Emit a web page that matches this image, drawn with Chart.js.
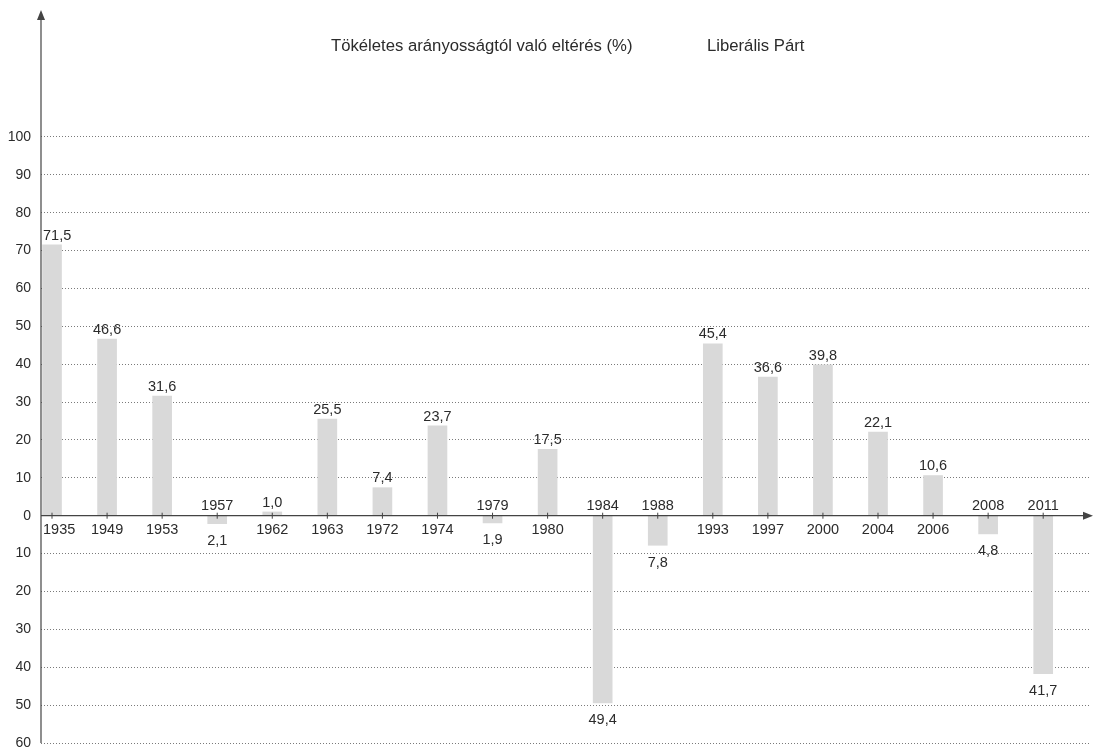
<!DOCTYPE html>
<html>
<head>
<meta charset="utf-8">
<script src="https://cdn.jsdelivr.net/npm/chart.js@4/dist/chart.umd.min.js"></script>
<style>
  html, body { margin: 0; padding: 0; background: #fff; }
  #wrap { width: 1093px; height: 751px; }
</style>
</head>
<body>
<div id="wrap"><canvas id="myChart" width="1093" height="751"></canvas></div>
<script>
// Datos de la grafica
const years = ['1935', '1949', '1953', '1957', '1962', '1963', '1972', '1974', '1979', '1980',
               '1984', '1988', '1993', '1997', '2000', '2004', '2006', '2008', '2011'];
const deviation = [71.5, 46.6, 31.6, -2.1, 1.0, 25.5, 7.4, 23.7, -1.9, 17.5,
                   -49.4, -7.8, 45.4, 36.6, 39.8, 22.1, 10.6, -4.8, -41.7];
const yTicks = [-60, -50, -40, -30, -20, -10, 0, 10, 20, 30, 40, 50, 60, 70, 80, 90, 100];
const titleText = 'Tökéletes arányosságtól való eltérés (%)';
const partyText = 'Liberális Párt';

const FONT = '"Liberation Sans", Arial, sans-serif';
const TEXT = '#2b2b2b';
const AXIS = '#444';

function fmt(v) {
    return Math.abs(v).toFixed(1).replace('.', ',');
}

// Ejes con flechas, etiquetas de años y valores
const decoPlugin = {
    id: 'deco',
    afterDatasetsDraw(chart) {
        const ctx = chart.ctx;
        const area = chart.chartArea;
        const x = chart.scales.x;
        const y = chart.scales.y;
        const y0 = y.getPixelForValue(0);
        const xAxis = area.left;

        ctx.save();
        ctx.strokeStyle = AXIS;
        ctx.fillStyle = AXIS;
        ctx.lineWidth = 1.2;

        // eje vertical
        ctx.beginPath();
        ctx.moveTo(xAxis, area.bottom);
        ctx.lineTo(xAxis, area.top + 6);
        ctx.stroke();
        ctx.beginPath();
        ctx.moveTo(xAxis, area.top);
        ctx.lineTo(xAxis - 4, area.top + 10);
        ctx.lineTo(xAxis + 4, area.top + 10);
        ctx.closePath();
        ctx.fill();

        // eje horizontal en cero
        const right = chart.width;
        ctx.beginPath();
        ctx.moveTo(xAxis, y0);
        ctx.lineTo(right - 6, y0);
        ctx.stroke();
        ctx.beginPath();
        ctx.moveTo(right, y0);
        ctx.lineTo(right - 10, y0 - 4);
        ctx.lineTo(right - 10, y0 + 4);
        ctx.closePath();
        ctx.fill();

        // marcas y textos
        ctx.font = '14.5px ' + FONT;
        ctx.fillStyle = TEXT;
        ctx.textAlign = 'center';
        // el texto no debe cruzar el eje vertical
        const cx = (txt, px) => {
            const w = ctx.measureText(txt).width;
            return Math.max(px, xAxis + 2 + w / 2);
        };
        years.forEach((yr, i) => {
            const px = x.getPixelForValue(i);
            const v = deviation[i];
            const pv = y.getPixelForValue(v);
            ctx.strokeStyle = AXIS;
            ctx.lineWidth = 1;
            ctx.beginPath();
            ctx.moveTo(px, y0 - 3);
            ctx.lineTo(px, y0 + 3);
            ctx.stroke();
            const val = fmt(v);
            if (v >= 0) {
                ctx.textBaseline = 'top';
                ctx.fillText(yr, cx(yr, px), y0 + 7);
                ctx.textBaseline = 'bottom';
                ctx.fillText(val, cx(val, px), pv - 2);
            } else {
                ctx.textBaseline = 'bottom';
                ctx.fillText(yr, cx(yr, px), y0 - 2);
                ctx.textBaseline = 'top';
                ctx.fillText(val, cx(val, px), pv + 10);
            }
        });

        // titulo
        ctx.font = '16.7px ' + FONT;
        ctx.textAlign = 'left';
        ctx.textBaseline = 'middle';
        ctx.fillText(titleText, 331, 46);
        ctx.fillText(partyText, 707, 46);
        ctx.restore();
    }
};

const ctx = document.getElementById('myChart').getContext('2d');

const myChart = new Chart(ctx, {
    type: 'bar',
    data: {
        datasets: [{
            data: deviation.map((v, i) => ({ x: i, y: v })),
            backgroundColor: '#d9d9d9',
            borderWidth: 0,
            barThickness: 19
        }]
    },
    options: {
        responsive: false,
        animation: false,
        layout: { padding: { top: 10, right: 3, bottom: 8, left: 0 } },
        plugins: {
            legend: { display: false },
            tooltip: { enabled: false },
            title: { display: false }
        },
        scales: {
            x: {
                type: 'linear',
                display: false,
                offset: false,
                min: -0.2,
                max: 18.85
            },
            y: {
                min: -60,
                max: 133.5,
                afterBuildTicks: (scale) => {
                    scale.ticks = yTicks.map(v => ({ value: v }));
                },
                afterFit: (scale) => {
                    scale.width = 41;
                    scale.paddingTop = 0;
                    scale.paddingBottom = 0;
                },
                border: { display: false, dash: [1, 2] },
                grid: {
                    drawTicks: false,
                    color: (c) => c.tick && c.tick.value === 0 ? 'rgba(0,0,0,0)' : '#7a7a7a',
                    lineWidth: 1
                },
                ticks: {
                    padding: 10,
                    color: TEXT,
                    font: { family: FONT, size: 14 },
                    callback: (v) => Math.abs(v)
                }
            }
        }
    },
    plugins: [decoPlugin]
});
</script>
</body>
</html>
